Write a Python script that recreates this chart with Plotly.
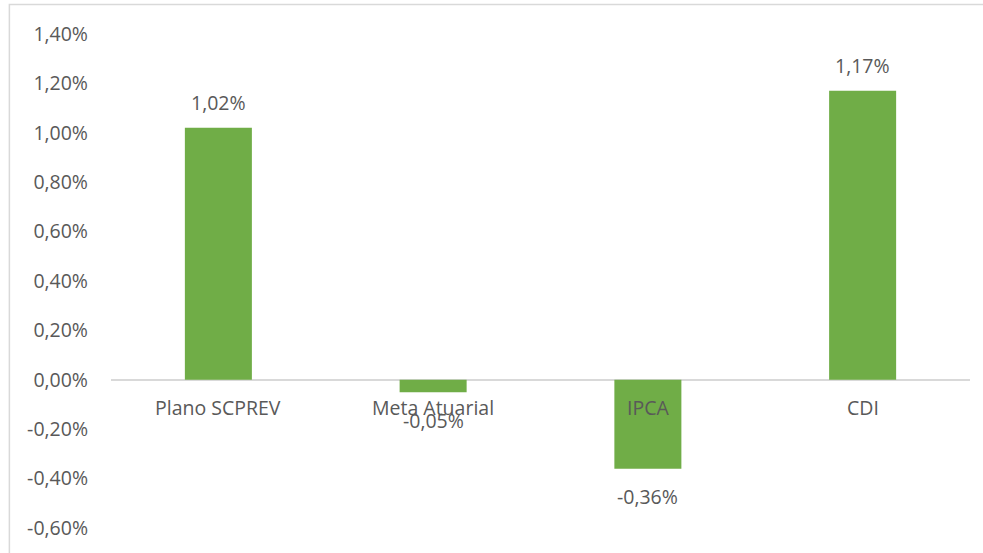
import plotly.graph_objects as go

categories = ["Plano SCPREV", "Meta Atuarial", "IPCA", "CDI"]
values = [0.0102, -0.0005, -0.0036, 0.0117]
tick_vals = [-0.006, -0.004, -0.002, 0.0, 0.002, 0.004, 0.006, 0.008, 0.010, 0.012, 0.014]


def pct(v):
    return f"{v*100:.2f}%".replace(".", ",")


tick_text = [pct(t) for t in tick_vals]

GREEN = "#70AD47"
TEXT = "#595959"
FONT = "Open Sans"
FS = 19.5

fig = go.Figure()
fig.add_trace(go.Bar(x=categories, y=values, marker=dict(color=GREEN, line=dict(width=0)),
                     hoverinfo="skip"))

annotations = []
for c, v in zip(categories, values):
    annotations.append(dict(x=c, y=v, xref="x", yref="y", text=pct(v), showarrow=False,
                            yanchor="middle", yshift=25 if v >= 0 else -28,
                            font=dict(family=FONT, size=FS, color=TEXT)))
    annotations.append(dict(x=c, y=0, xref="x", yref="y", text=c, showarrow=False,
                            yanchor="middle", yshift=-28,
                            font=dict(family=FONT, size=FS, color=TEXT)))

fig.update_layout(
    width=983, height=553,
    margin=dict(l=111, r=13, t=34, b=25),
    paper_bgcolor="white", plot_bgcolor="white",
    separators=",.",
    bargap=0.688,
    showlegend=False,
    font=dict(family=FONT, size=FS, color=TEXT),
    annotations=annotations,
    xaxis=dict(showticklabels=False, showgrid=False, showline=False, zeroline=False,
               ticks="", range=[-0.5, 3.5]),
    yaxis=dict(range=[-0.006, 0.014], tickvals=tick_vals, ticktext=tick_text,
               showgrid=False, showline=False, zeroline=True, zerolinecolor="#D9D9D9",
               zerolinewidth=1.5, ticks="", ticklabelstandoff=22,
               tickfont=dict(family=FONT, size=FS, color=TEXT)),
    shapes=[dict(type="rect", xref="paper", yref="paper",
                 x0=-0.1183, x1=1.2, y0=-0.2, y1=1.0597,
                 line=dict(color="#D9D9D9", width=1.5), fillcolor="rgba(0,0,0,0)", layer="below")],
)

fig.write_html("out.html", config={"displayModeBar": False},
               post_script="document.body.style.margin='0';document.body.style.overflow='hidden';")
